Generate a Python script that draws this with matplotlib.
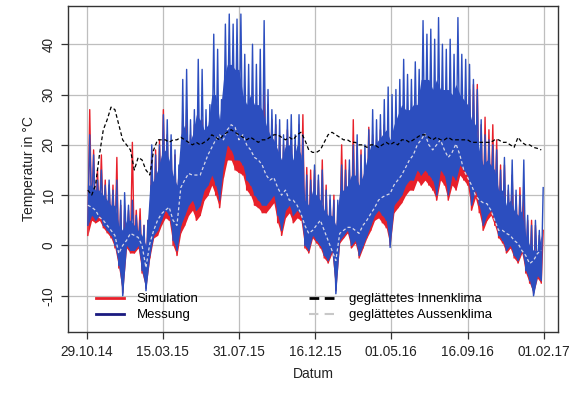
import numpy as np
import pandas as pd
import matplotlib
matplotlib.use("Agg")
import matplotlib.pyplot as plt
import matplotlib.dates as mdates
from matplotlib.lines import Line2D

plt.rcParams['font.family'] = ['Liberation Sans', 'DejaVu Sans']

start_date = "2014-10-29"
tick_dates = ["2014-10-29", "2015-03-15", "2015-07-31", "2015-12-16",
              "2016-05-01", "2016-09-16", "2017-02-01"]

# weekly values (week 0 = 29.10.14)
mess_high = [22, 18, 13, 15, 12, 13, 11, 13, 9, 10.5, 8, 9, 6, 5, 4, 5, 20, 18, 20, 26,
             25, 22, 19, 16, 33, 35, 25, 27, 37, 35, 27, 28, 42, 39, 29, 44, 46, 44, 45, 46,
             38, 36, 40, 36, 39, 44.7, 31, 27, 26, 25, 22, 25, 26, 22, 26, 22, 14, 13, 16, 14,
             15, 11, 10, 9, 9, 16, 15, 17, 20, 22, 18, 20, 23, 27, 25, 26, 29, 31.5, 30, 31,
             33, 37, 34, 33, 36.5, 35, 44.7, 42, 43, 41, 45.3, 40, 39, 41, 38, 45.3, 38, 37, 36, 33,
             31, 25, 22, 21, 20, 19, 15, 17.5, 12, 17, 11, 10, 17, 6, 4, 5, 3, 11.5]
# typical daily maximum (top of the dense band)
mess_core = [12, 12, 11, 11, 10, 9, 8, 8, 4, 3, 5, 5, 4, 3, 2, 0, 12, 13, 15, 18,
             19, 17, 14, 12, 22, 24, 20, 22, 26, 25, 23, 24, 30, 30, 25, 33, 36, 36, 35, 35,
             30, 28, 30, 28, 28, 27, 24, 22, 21, 19, 17, 20, 20, 17, 20, 18, 9, 8, 11, 10,
             9, 7, 6, 6, 4, 11, 11, 12, 14, 14, 12, 14, 17, 20, 20, 21, 22, 23, 21, 24,
             26, 28, 27, 27, 28, 28, 33, 33, 33, 31, 33, 31, 31, 31, 30, 32, 30, 29, 28, 25,
             24, 19, 16, 17, 16, 15, 11, 11, 8, 9, 7, 6, 7, 2, 0, -1, -1, 2]
mess_low = [4, 6, 5, 6, 4, 3, 2, 0, -4, -10, 0, -1, -1, 0, -5, -9, -2, 2, 3, 5,
            7, 6, 1, -1, 4, 6, 8, 9, 7, 8, 11, 12, 14, 12, 9, 16, 20, 19, 17, 17,
            16, 13, 12, 10, 9, 8, 8, 9, 10, 6, 3, 7, 8, 6, 7, 6, 0, -1, 2, 1,
            0, -2, -3, -1, -9.6, 1, 2, 3, 0, 1, -2, 0, 2, 4, 6, 7, 6, 5, -0.4, 8,
            9, 10, 12, 13, 13, 15, 14, 15, 14, 13, 10, 15, 14, 10, 14, 13, 16, 15, 14, 8,
            11, 8, 4, 6, 7, 5, 2, 1, -1, 0, -2, -3, -1, -5, -7, -10, -6, -7]
sim_high = [27, 19, 15, 18, 13, 12, 12, 17.5, 8, 7, 7, 20.5, 7, 7.3, 4, 5, 19, 19, 21, 27,
            22, 20, 18, 15, 26, 27, 22, 24, 26, 25, 23, 24, 27, 25, 22, 28, 30, 29, 28, 28,
            26, 24, 25, 24, 26, 31, 28, 25, 24, 22, 20, 23, 22, 20, 24, 26, 15.5, 15, 15, 13,
            17, 12, 9, 10, 8, 20, 17, 15, 25, 20, 19, 17, 23.5, 22, 21, 23, 24, 25, 24, 25,
            24, 25, 24, 23, 24, 25, 27, 26, 25, 24, 26, 24, 25, 26, 24, 25, 24, 27, 31, 32,
            32, 24, 25.5, 23, 24, 21, 16, 16, 11, 14, 10, 11.5, 10, 5, 5, 4, 2, 3]
sim_core = [10, 10, 9, 10, 9, 8, 7, 7, 3, 2, 4, 4, 3, 3, 1, -1, 10, 11, 13, 16,
            16, 15, 12, 10, 18, 19, 17, 19, 20, 20, 19, 20, 22, 21, 19, 23, 25, 25, 24, 24,
            22, 21, 22, 21, 21, 22, 21, 20, 19, 17, 15, 18, 17, 15, 18, 17, 8, 7, 10, 9,
            9, 6, 5, 5, 3, 10, 10, 11, 13, 13, 11, 13, 15, 17, 17, 18, 19, 20, 18, 20,
            20, 21, 21, 20, 21, 21, 23, 23, 22, 21, 22, 21, 21, 22, 21, 22, 21, 22, 24, 23,
            22, 18, 16, 16, 15, 14, 10, 10, 7, 8, 6, 6, 6, 1, -1, -2, -2, 0]
sim_low = [2, 5, 4.5, 5, 3.5, 2.5, 1.5, -0.5, -4.5, -9.5, -0.5, -1.5, -1.5, -0.5, -5.5, -8.5, -2.5, 1.5, 2, 4,
           5.5, 5, 0, -2, 2.5, 4, 6, 7, 5, 6, 9, 10, 12, 10, 7.5, 13.5, 17, 17, 15, 14.5,
           14, 11, 10, 8, 7.5, 6.5, 6.5, 7.5, 8.5, 4.5, 2, 5.5, 6.5, 4.5, 5.5, 5, -0.5, -1.5, 1.5, 0.5,
           -0.5, -2.5, -3.5, -1.5, -9, 0.5, 1.5, 2.5, -0.5, 0.5, -2.5, -0.5, 1.5, 3, 5, 5.5, 4.5, 3.5, 0, 6.5,
           7.5, 8.5, 10, 11, 11, 13, 12, 13, 12, 11, 9, 13, 12, 9, 12, 11, 14, 13, 12, 7,
           9.5, 6.5, 3, 5, 6, 4, 1.5, 0.5, -1.5, -0.5, -2.5, -3.5, -1.5, -5.5, -7.5, -9.5, -6.5, -7.5]
inner_smooth = [11, 10, 12, 18, 23, 25, 27.5, 27, 24, 21, 20, 19, 15, 17.5, 17, 15, 14, 19, 21, 21,
                21, 20.5, 21, 21, 21.5, 21, 20.5, 20, 20.5, 20, 20.5, 21, 22, 21.5, 21, 22, 22.5, 23, 22.5, 22,
                21.5, 21, 21.5, 21, 20.5, 21, 21, 21.5, 22, 22, 21.5, 21, 21.5, 21, 22, 22.5, 21, 19, 18.5, 18.5,
                19, 20.5, 22, 22.5, 22, 21.5, 21, 21, 20.5, 20.5, 20, 20, 19.5, 20, 20, 19.5, 20, 20.5, 20, 20.5,
                20, 21, 21, 20.5, 21, 21.5, 22, 22, 21.5, 21, 21.5, 21, 21, 21.5, 21, 21, 21, 21, 21, 20.5,
                20.5, 20.5, 20.5, 20.5, 20.5, 21, 21, 20.5, 20.5, 20, 19.5, 21.5, 20.5, 20, 20, 19.5, 19.3, 19]
outer_smooth = [8, 7.6, 7, 5.6, 5, 4, 3, 2, -1.6, 0, 1, 2.4, 2, 1.6, 0, -4.4, 0.4, 3, 5, 6.3,
                7, 7.6, 5, 4, 11.5, 13, 14.3, 14, 14, 14, 16, 18, 19.5, 21, 22, 21, 23, 24, 23.5, 21,
                22, 20, 19, 17.5, 17, 16, 14, 13, 13.5, 11.5, 10, 11, 9, 9, 8, 6.3, 4, 2.4, 3, 4,
                5, 3, 1, -1, -3, 2.4, 3, 3.6, 3.6, 3, 2.4, 4, 5, 6.3, 7.5, 9, 9.6, 10, 10.3, 12,
                13, 14, 15.5, 17, 18, 20, 21, 22.2, 20, 19, 20, 21, 19, 17.5, 18.5, 20.2, 18, 15, 13.5, 12,
                10, 9, 8.5, 8.3, 7, 5, 3, 3, 2.4, 2, 1, 0.4, -1, -2, -3.6, -3, -1.6, -1]

t0 = pd.Timestamp(start_date)
n = len(mess_high)
weeks = np.arange(n)


def zigzag(lows, highs):
    days = []
    vals = []
    for w, (lo, hi) in enumerate(zip(lows, highs)):
        days += [7 * w + 1.75, 7 * w + 5.25]
        vals += [lo, hi]
    dates = [t0 + pd.Timedelta(days=d) for d in days]
    return mdates.date2num(dates), np.array(vals)


RED = '#E8202A'
BLUE = '#2C4EBF'

fig = plt.figure(figsize=(5.74, 3.96), dpi=100)
ax = fig.add_axes([68 / 574, 1 - 332 / 396, (558 - 68) / 574, (332 - 6) / 396])

ax.grid(True, color='#BEBEBE', linewidth=0.9)
ax.set_axisbelow(True)

wdates = mdates.date2num([t0 + pd.Timedelta(days=7 * w + 1.75) for w in weeks])

# Simulation
ax.fill_between(wdates, sim_low, sim_core, color=RED, linewidth=0, zorder=2)
xs, ys = zigzag(sim_low, sim_high)
ax.plot(xs, ys, color=RED, linewidth=1.0, zorder=2)
# Messung
ax.fill_between(wdates, mess_low, mess_core, color=BLUE, linewidth=0, zorder=3)
xm, ym = zigzag(mess_low, mess_high)
ax.plot(xm, ym, color=BLUE, linewidth=1.0, zorder=3)

ax.plot(wdates, outer_smooth, color='#D8D8E6', linewidth=0.9, linestyle=(0, (2.5, 2)), zorder=4)
ax.plot(wdates, inner_smooth, color='black', linewidth=0.9, linestyle=(0, (3, 2)), zorder=5)

tick_nums = mdates.date2num(pd.to_datetime(tick_dates))
ax.set_xticks(tick_nums)
ax.set_xticklabels([pd.Timestamp(d).strftime('%d.%m.%y') for d in tick_dates])
ax.set_xlim(mdates.date2num(t0) - 34, mdates.date2num(pd.Timestamp("2017-02-01")) + 25)
ax.set_ylim(-17.2, 47.6)
ax.set_yticks([-10, 0, 10, 20, 30, 40])
ax.set_yticklabels(['-10', '0', '10', '20', '30', '40'], rotation=90, va='center')

ax.tick_params(axis='both', labelsize=9.8, length=5, width=0.9, color='#333333',
               labelcolor='#222222', pad=4)
for s in ax.spines.values():
    s.set_color('#333333')
    s.set_linewidth(1.0)

ax.set_xlabel('Datum', fontsize=10, color='#222222', labelpad=6)
ax.set_ylabel('Temperatur in °C', fontsize=10, color='#222222', labelpad=4)

h1 = [Line2D([], [], color=RED, linewidth=2),
      Line2D([], [], color='#1A1A80', linewidth=2)]
leg1 = ax.legend(h1, ['Simulation', 'Messung'], loc='upper left',
                 bbox_to_anchor=(96 / 574, 1 - 293 / 396), bbox_transform=fig.transFigure,
                 frameon=False, fontsize=9.5, handlelength=2.1, handletextpad=1.0,
                 labelspacing=0.28, borderpad=0, borderaxespad=0)
ax.add_artist(leg1)
h2 = [Line2D([], [], color='black', linewidth=2, linestyle=(0, (3.5, 2))),
      Line2D([], [], color='#C8C8C8', linewidth=1.5, linestyle=(0, (4.5, 3)))]
ax.legend(h2, ['geglättetes Innenklima', 'geglättetes Aussenklima'], loc='upper left',
          bbox_to_anchor=(309 / 574, 1 - 293 / 396), bbox_transform=fig.transFigure,
          frameon=False, fontsize=9.5, handlelength=2.1, handletextpad=0.9,
          labelspacing=0.28, borderpad=0, borderaxespad=0)

fig.savefig('out.png', dpi=100)
